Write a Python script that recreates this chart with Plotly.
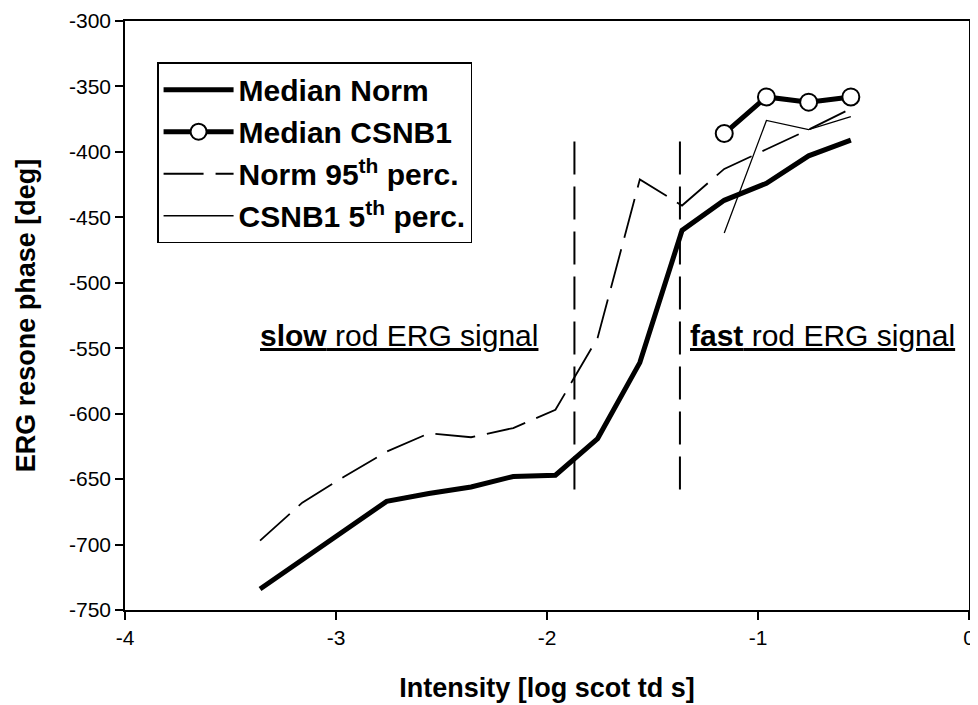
import plotly.graph_objects as go

# ---- data ----
intensity = [-3.36, -3.16, -2.96, -2.76, -2.56, -2.36, -2.16, -1.96,
             -1.76, -1.56, -1.36, -1.16, -0.96, -0.76, -0.56]
median_norm = [-734, -712, -690, -667, -661, -656, -648, -647,
               -619, -561, -460, -437, -424, -403, -391]
norm_95 = [-697, -668, -648, -629, -615, -618, -611, -597,
           -542, -421, -441, -413, -398, -383, -367]
csnb1_x = [-1.16, -0.96, -0.76, -0.56]
median_csnb1 = [-386, -358, -362, -358]
csnb1_5 = [-462, -376, -383, -373]
boundary_x = [-1.87, -1.37]
boundary_y = [-392, -658]

x_ticks = [-4, -3, -2, -1, 0]
x_ticklabels = ["-4", "-3", "-2", "-1", "0"]
y_ticks = [-750, -700, -650, -600, -550, -500, -450, -400, -350, -300]
y_ticklabels = ["-750", "-700", "-650", "-600", "-550", "-500", "-450", "-400", "-350", "-300"]

FONT = "Arial, Liberation Sans, sans-serif"

fig = go.Figure()

fig.add_trace(go.Scatter(
    x=intensity, y=median_norm, mode="lines", name="<b>Median Norm</b>",
    line=dict(color="black", width=5)))
fig.add_trace(go.Scatter(
    x=csnb1_x, y=median_csnb1, mode="lines+markers", name="<b>Median CSNB1</b>",
    line=dict(color="black", width=5),
    marker=dict(symbol="circle", size=17, color="white",
                line=dict(color="black", width=2))))
fig.add_trace(go.Scatter(
    x=intensity, y=norm_95, mode="lines", name="<b>Norm 95<sup>th</sup> perc.</b>",
    line=dict(color="black", width=1.8, dash="40px,12px")))
fig.add_trace(go.Scatter(
    x=csnb1_x, y=csnb1_5, mode="lines", name="<b>CSNB1 5<sup>th</sup> perc.</b>",
    line=dict(color="black", width=1.3)))

for bx in boundary_x:
    fig.add_trace(go.Scatter(
        x=[bx, bx], y=boundary_y, mode="lines", showlegend=False,
        line=dict(color="black", width=2, dash="33px,12px"), hoverinfo="skip"))

fig.add_annotation(x=-3.37, y=-540, xref="x", yref="y", xanchor="left", yanchor="middle",
                   text="<u><b>slow</b> rod ERG signal</u>", showarrow=False,
                   font=dict(family=FONT, size=30, color="black"))
fig.add_annotation(x=-1.33, y=-540, xref="x", yref="y", xanchor="left", yanchor="middle",
                   text="<u><b>fast</b> rod ERG signal</u>", showarrow=False,
                   font=dict(family=FONT, size=30, color="black"))

axis_common = dict(showgrid=False, zeroline=False, showline=True, linecolor="black",
                   linewidth=1.5, mirror=True, ticks="outside", ticklen=8,
                   tickwidth=1.5, tickcolor="black", automargin=False,
                   tickfont=dict(family=FONT, size=21, color="black"))

# the page body adds an 8px offset, so the figure is sized to the visible area
fig.update_layout(
    width=970, height=697,
    margin=dict(l=117, r=9, t=13, b=95),
    paper_bgcolor="white", plot_bgcolor="white",
    font=dict(family=FONT, color="black"),
    xaxis=dict(range=[-4, 0], tickvals=x_ticks, ticktext=x_ticklabels,
               title=dict(text="<b>Intensity [log scot td s]</b>",
                          font=dict(family=FONT, size=27, color="black"), standoff=30),
               **axis_common),
    yaxis=dict(range=[-750, -300], tickvals=y_ticks, ticktext=y_ticklabels,
               title=dict(text="<b>ERG resone phase [deg]</b>",
                          font=dict(family=FONT, size=27, color="black"), standoff=26),
               **axis_common),
    legend=dict(x=0.038, y=0.93, xanchor="left", yanchor="top",
                bgcolor="white", bordercolor="black", borderwidth=1.5,
                font=dict(family=FONT, size=30, color="black"),
                itemwidth=70, tracegroupgap=0),
    showlegend=True,
)

fig.write_html("out.html")
